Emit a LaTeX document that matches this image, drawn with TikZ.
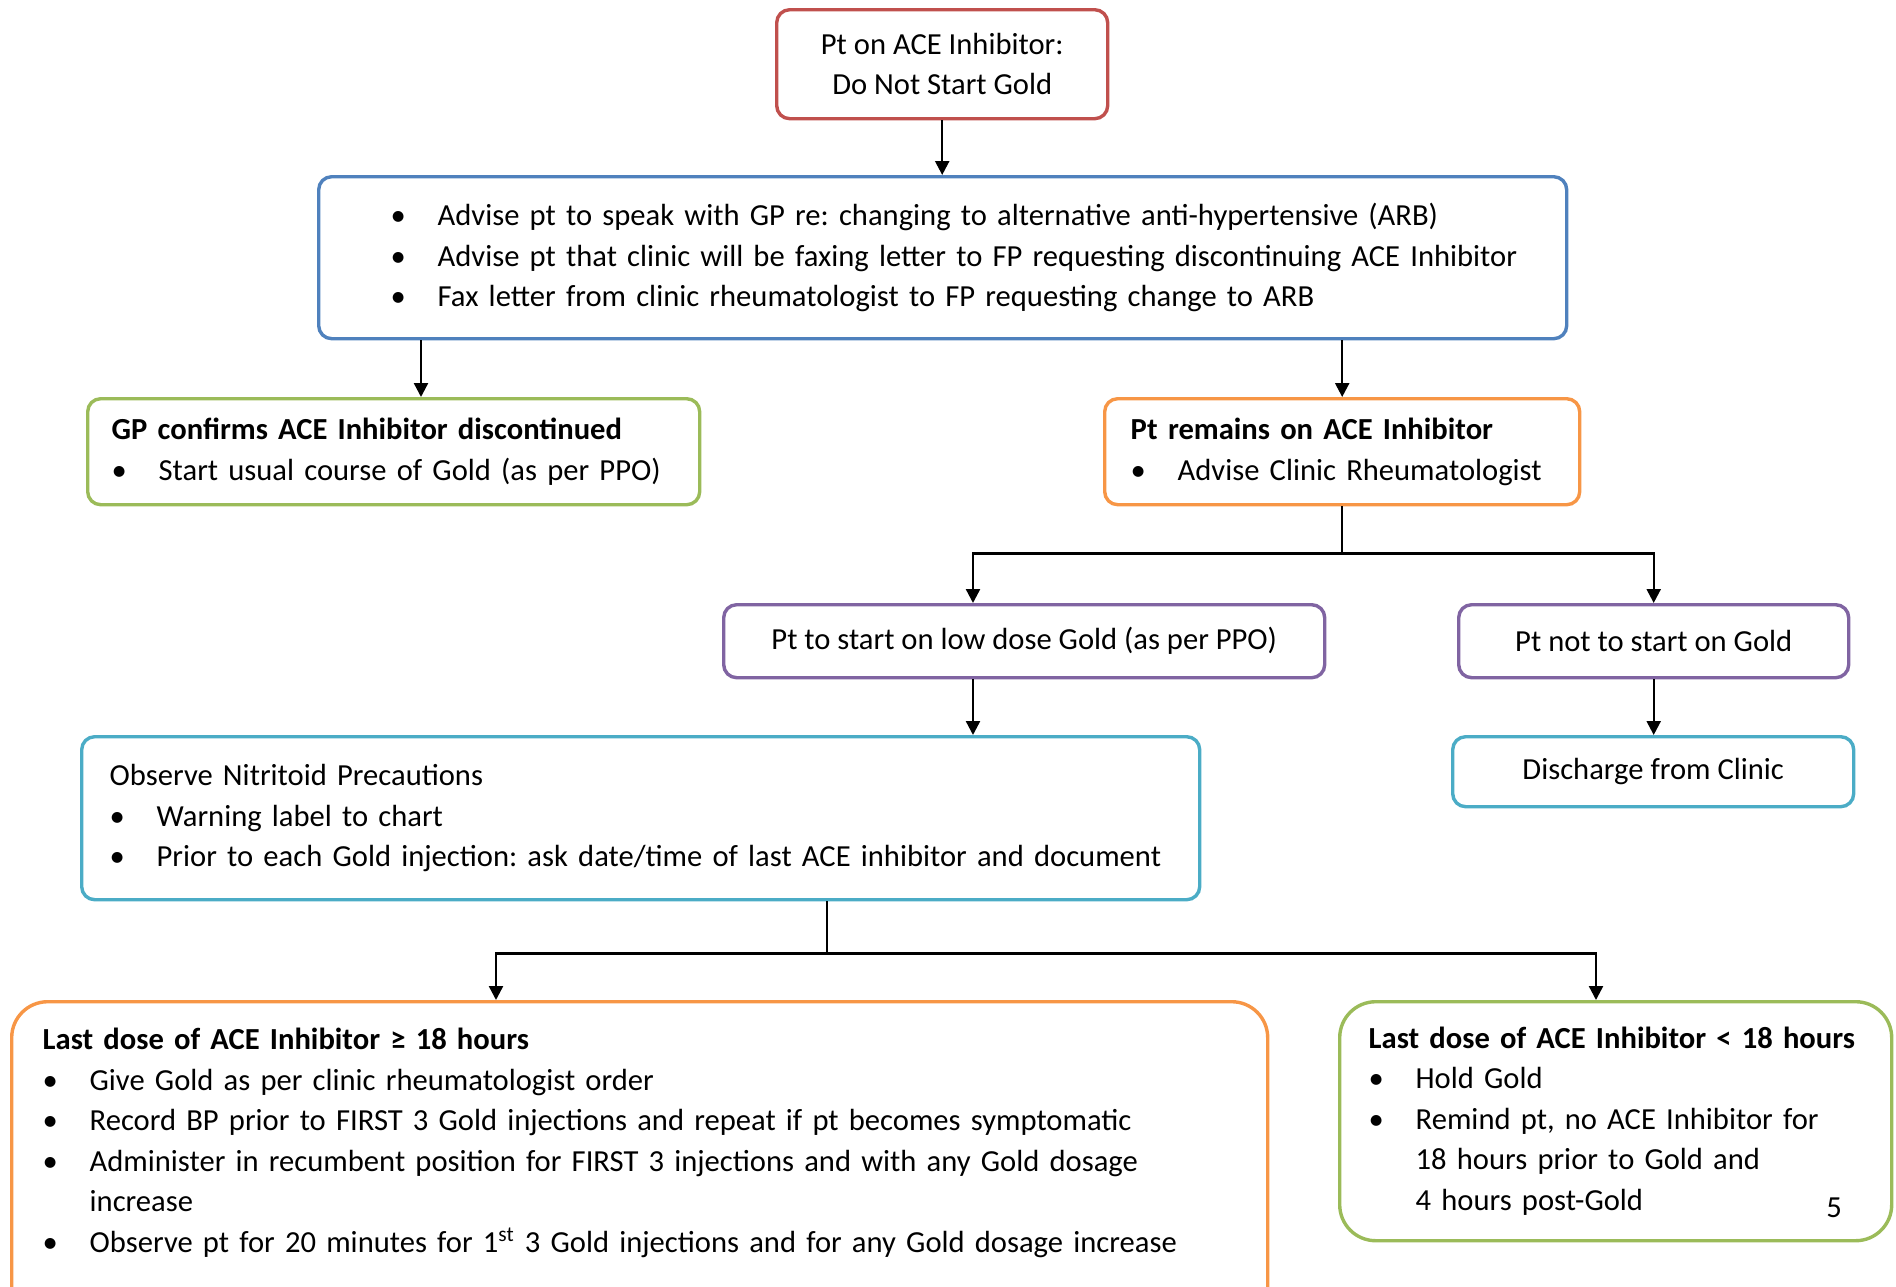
\documentclass[tikz,border=0pt]{standalone}
\usepackage{fontspec}
\setmainfont{Carlito}
\usetikzlibrary{arrows.meta,positioning}

\definecolor{boxred}{HTML}{C0504D}
\definecolor{boxblue}{HTML}{4F81BD}
\definecolor{boxgreen}{HTML}{9BBB59}
\definecolor{boxorange}{HTML}{F79646}
\definecolor{boxpurple}{HTML}{8064A2}
\definecolor{boxteal}{HTML}{4BACC6}

\newcommand{\bul}[1]{\mbox{\makebox[23.5pt][l]{•}#1}}
\newcommand{\cont}[1]{\mbox{\hspace*{23.5pt}#1}}
\frenchspacing

\begin{document}
\begin{tikzpicture}[x=0.5pt,y=-0.5pt,
    arr/.style={-{Triangle[length=7pt,width=7pt]},line width=1.2pt},
    every node/.style={font=\fontsize{15.3}{20.25}\selectfont},
    box/.style={draw,rounded corners=6.5pt,line width=1.7pt,anchor=north west},
    bigbox/.style={box,rounded corners=18pt}]

  \useasboundingbox (0,0) rectangle (1896,1286);
  \clip (0,0) rectangle (1896,1286);

  \node[box,draw=boxred,minimum width=165.5pt,minimum height=54.5pt,align=center]
    (acei) at (775,8) {Pt on ACE Inhibitor:\\Do Not Start Gold};
  \node[box,draw=boxblue,minimum width=624pt,minimum height=81pt,inner xsep=36pt,
    text width=552pt,align=left] (advise) at (317,175)
    {\bul{Advise pt to speak with GP re: changing to alternative anti-hypertensive (ARB)}\\
     \bul{Advise pt that clinic will be faxing letter to FP requesting discontinuing ACE Inhibitor}\\
     \bul{Fax letter from clinic rheumatologist to FP requesting change to ARB}};
  \node[box,draw=boxgreen,minimum width=306pt,minimum height=53pt,inner xsep=12pt,
    text width=282pt,align=left] (gpok) at (86,397)
    {\mbox{\textbf{GP confirms ACE Inhibitor discontinued}}\\
     \bul{Start usual course of Gold (as per PPO)}};
  \node[box,draw=boxorange,minimum width=237.5pt,minimum height=53pt,inner xsep=13pt,
    text width=211.5pt,align=left] (stay) at (1103,397)
    {\mbox{\textbf{Pt remains on ACE Inhibitor}}\\
     \bul{Advise Clinic Rheumatologist}};
  \node[box,draw=boxpurple,minimum width=300.5pt,minimum height=36.5pt]
    (lowdose) at (722,603) {Pt to start on low dose Gold (as per PPO)};
  \node[box,draw=boxpurple,minimum width=195pt,minimum height=36.5pt]
    (nogold) at (1457,603) {Pt not to start on Gold};
  \node[box,draw=boxteal,minimum width=559pt,minimum height=81.5pt,inner xsep=14pt,
    text width=531pt,align=left] (observe) at (80,735)
    {\mbox{Observe Nitritoid Precautions}\\
     \bul{Warning label to chart}\\
     \bul{Prior to each Gold injection: ask date/time of last ACE inhibitor and document}};
  \node[box,draw=boxteal,minimum width=200.5pt,minimum height=35pt]
    (discharge) at (1451,735) {Discharge from Clinic};
  \node[bigbox,draw=boxorange,minimum width=628pt,inner xsep=15.5pt,inner ysep=12pt,
    text width=597pt,align=left] (longgap) at (10,1000)
    {\rule{0pt}{12pt}\mbox{\textbf{Last dose of ACE Inhibitor ≥ 18 hours}}\\
     \bul{Give Gold as per clinic rheumatologist order}\\
     \bul{Record BP prior to FIRST 3 Gold injections and repeat if pt becomes symptomatic}\\
     \bul{Administer in recumbent position for FIRST 3 injections and with any Gold dosage}\\
     \cont{increase}\\
     \bul{Observe pt for 20 minutes for 1\textsuperscript{st} 3 Gold injections and for any Gold dosage increase}\rule[-40pt]{0pt}{40pt}};
  \node[bigbox,draw=boxgreen,minimum width=276pt,minimum height=119.5pt,inner xsep=14.5pt,
    text width=247pt,align=left] (shortgap) at (1338,1000)
    {\mbox{\textbf{Last dose of ACE Inhibitor < 18 hours}}\\
     \bul{Hold Gold}\\
     \bul{Remind pt, no ACE Inhibitor for}\\
     \cont{18 hours prior to Gold and}\\
     \cont{4 hours post-Gold}};
  \node (pagenum) at (1834,1208) {5};

  \draw[arr] (acei.south) -- (acei.south |- advise.north);
  \draw[arr] (advise.south -| 421,0) -- (gpok.north -| 421,0);
  \draw[arr] (advise.south -| stay.north) -- (stay.north);
  \draw[line width=1.2pt] (stay.south) -- ++(0,47) coordinate (fork1);
  \draw[arr] (fork1) -| (lowdose.north -| 973,0);
  \draw[arr] (fork1) -| (nogold.north);
  \draw[arr] (lowdose.south -| 973,0) -- (observe.north -| 973,0);
  \draw[arr] (nogold.south) -- (nogold.south |- discharge.north);
  \draw[line width=1.2pt] (observe.south -| 827,0) -- ++(0,52) coordinate (fork2);
  \draw[arr] (fork2) -| (longgap.north -| 496,0);
  \draw[arr] (fork2) -| (shortgap.north -| 1596,0);
\end{tikzpicture}
\end{document}
